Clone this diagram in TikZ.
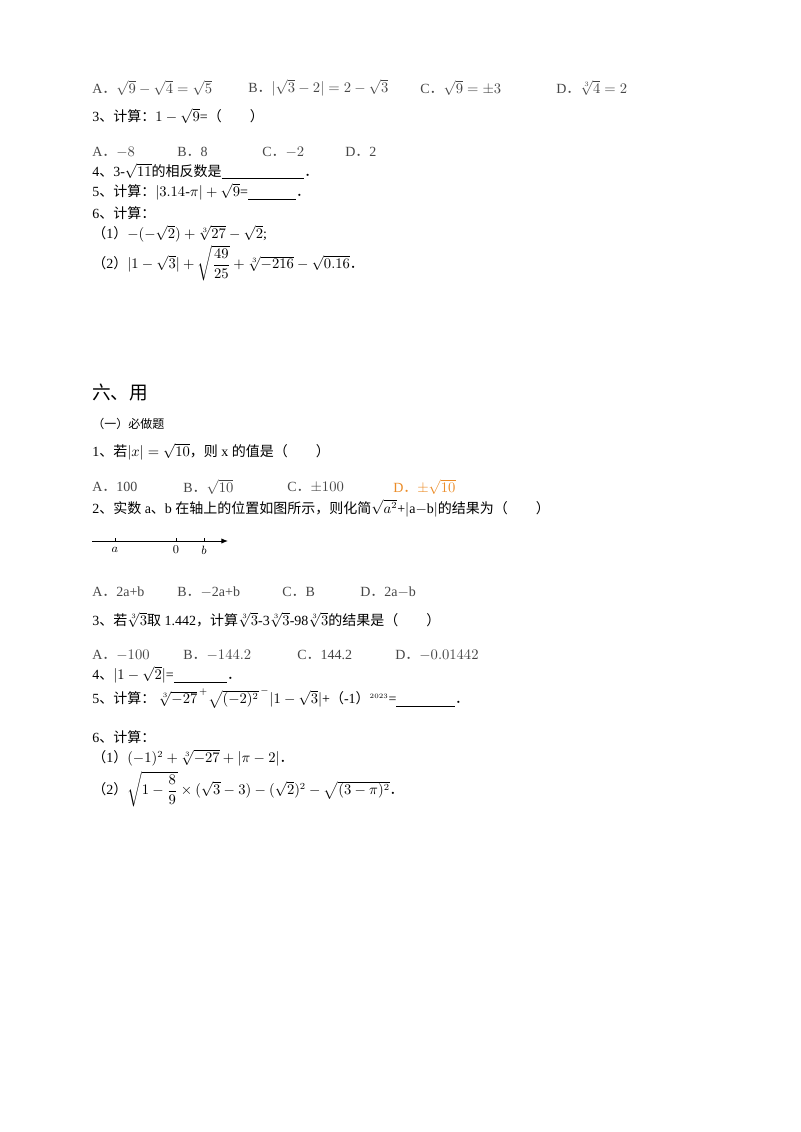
\documentclass[tikz,border=0pt]{standalone}
\usepackage{amsmath}
\usepackage{fontspec}
\setmainfont{Liberation Serif}
\newfontfamily\cjk{Noto Sans CJK SC}
\usetikzlibrary{arrows.meta}
\definecolor{opt}{RGB}{70,70,70}
\definecolor{orng}{RGB}{235,140,40}
\newcommand{\blank}[1]{\underline{\hspace{#1}}}
\newcommand{\FD}{{\cjk ．}}
\newcommand{\LP}{{\cjk （}}
\newcommand{\RP}{{\cjk ）}}
\begin{document}
\begin{tikzpicture}[x=0.75pt,y=-0.75pt,
  ln/.style={anchor=west,inner sep=0pt,font=\fontsize{10.5}{12}\selectfont},
  op/.style={ln,text=opt}]
\useasboundingbox (0,0) rectangle (800,1132);
% part 1
\node[op] (a1) at (92,88) {A\FD $\sqrt{9}-\sqrt{4}=\sqrt{5}$};
\node[op] (b1) at (248,88) {B\FD $|\sqrt{3}-2|=2-\sqrt{3}$};
\node[op] (c1) at (420,88) {C\FD $\sqrt{9}=\pm 3$};
\node[op] (d1) at (556,88) {D\FD $\sqrt[3]{4}=2$};
\node[ln] (q3) at (92,116) {3{\cjk 、计算：}$1-\sqrt{9}$={\cjk （\quad\quad）}};
\node[op] (a3) at (92,152) {A\FD $-8$};
\node[op] (b3) at (177,152) {B\FD 8};
\node[op] (c3) at (262,152) {C\FD $-2$};
\node[op] (d3) at (345,152) {D\FD 2};
\node[ln] (q4) at (92,171) {4{\cjk 、}3-$\sqrt{11}${\cjk 的相反数是}\blank{62pt}\FD};
\node[ln] (q5) at (92,192) {5{\cjk 、计算：}$|3.14$-$\pi|+\sqrt{9}$=\blank{36pt}\FD};
\node[ln] (q6) at (92,213) {6{\cjk 、计算：}};
\node[ln] (q61) at (92,234) {\LP 1\RP$-(-\sqrt{2})+\sqrt[3]{27}-\sqrt{2}$;};
\node[ln] (q62) at (92,263) {\LP 2\RP$|1-\sqrt{3}|+\sqrt{\dfrac{49}{25}}+\sqrt[3]{-216}-\sqrt{0.16}$\FD};
% part 2
\node[ln,font=\fontsize{14}{16}\selectfont\cjk] (h) at (92,392) {六、用};
\node[ln,font=\fontsize{9}{11}\selectfont\cjk] (h1) at (92,424) {（一）必做题};
\node[ln] (p1) at (92,452) {1{\cjk 、若}$|x|=\sqrt{10}${\cjk ，则} x {\cjk 的值是（\quad\quad）}};
\node[op] (pa1) at (92,487) {A\FD 100};
\node[op] (pb1) at (183,487) {B\FD $\sqrt{10}$};
\node[op] (pc1) at (287,487) {C\FD $\pm 100$};
\node[op,text=orng] (pd1) at (393,487) {D\FD $\pm\sqrt{10}$};
\node[ln] (p2) at (92,508) {2{\cjk 、实数} a{\cjk 、}b {\cjk 在轴上的位置如图所示，则化简}$\sqrt{a^2}$+$|$a$-$b$|${\cjk 的结果为（\quad\quad）}};
\coordinate (s) at (92,541);
\coordinate (e) at (228,541);
\draw[-{Latex[length=5pt,width=4pt]},line width=0.7pt] (s) -- (e);
\foreach \xx/\lab in {115/a,176/0,204/b}{
  \draw (\xx,541) -- (\xx,538);
  \node[inner sep=0pt,font=\fontsize{9}{10}\selectfont] (t\xx) at (\xx,550) {$\lab$};}
\node[op] (pa2) at (92,592) {A\FD 2a+b};
\node[op] (pb2) at (177,592) {B\FD $-$2a+b};
\node[op] (pc2) at (282,592) {C\FD B};
\node[op] (pd2) at (360,592) {D\FD 2a$-$b};
\node[ln] (p3) at (92,620) {3{\cjk 、若}$\sqrt[3]{3}${\cjk 取} 1.442{\cjk ，计算}$\sqrt[3]{3}$-3$\sqrt[3]{3}$-98$\sqrt[3]{3}${\cjk 的结果是（\quad\quad）}};
\node[op] (pa3) at (92,655) {A\FD $-100$};
\node[op] (pb3) at (183,655) {B\FD $-144.2$};
\node[op] (pc3) at (297,655) {C\FD 144.2};
\node[op] (pd3) at (395,655) {D\FD $-0.01442$};
\node[ln] (p4) at (92,675) {4{\cjk 、}$|1-\sqrt{2}|$=\blank{40pt}\FD};
\node[ln] (p5) at (92,698) {5{\cjk 、计算：} $\sqrt[3]{-27}^{\,+}\sqrt{(-2)^2}^{\,-}|1-\sqrt{3}|$+\LP-1\RP$^{\scriptscriptstyle 2023}$=\blank{44pt}\FD};
\node[ln] (p6) at (92,737) {6{\cjk 、计算：}};
\node[ln] (p61) at (92,758) {\LP 1\RP$(-1)^2+\sqrt[3]{-27}+|\pi-2|$\FD};
\node[ln] (p62) at (92,789) {\LP 2\RP$\sqrt{1-\dfrac{8}{9}}\times(\sqrt{3}-3)-(\sqrt{2})^2-\sqrt{(3-\pi)^2}$\FD};
\end{tikzpicture}
\end{document}
